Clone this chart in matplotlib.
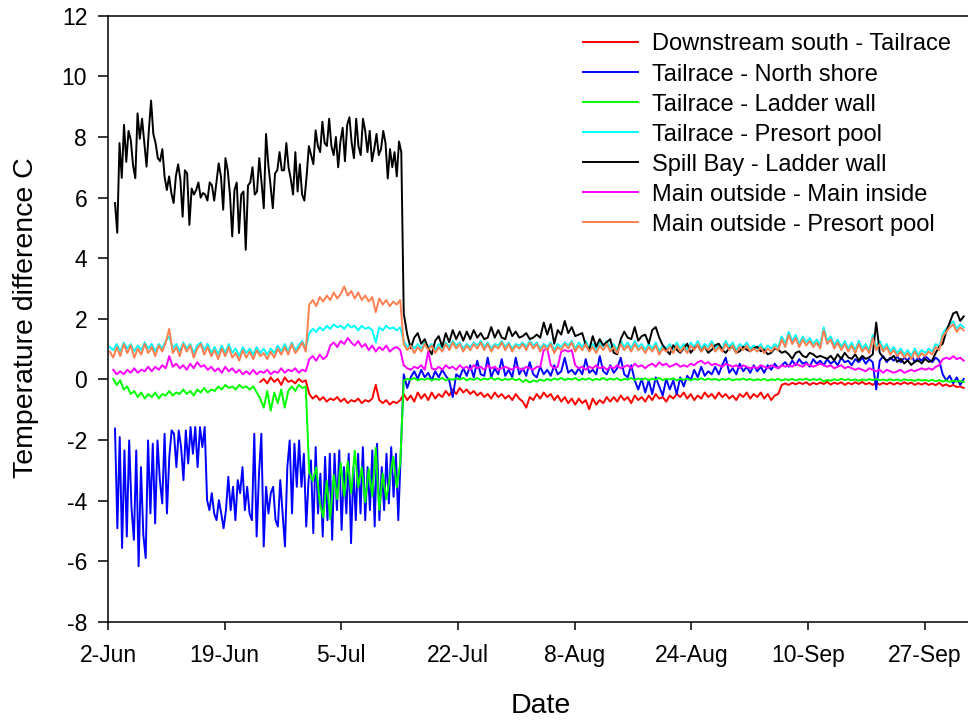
import numpy as np
import matplotlib
matplotlib.use('Agg')
import matplotlib.pyplot as plt

plt.rcParams['font.family'] = ['Liberation Sans', 'DejaVu Sans']
plt.rcParams['axes.unicode_minus'] = False

# x axis: days counted from 2 June
tick_days = [0, 50 / 3, 100 / 3, 50, 200 / 3, 250 / 3, 100, 350 / 3]
tick_labels = ['2-Jun', '19-Jun', '5-Jul', '22-Jul', '8-Aug', '24-Aug', '10-Sep', '27-Sep']

STEP = 0.5            # half-day sampling
SURGE_START = 28.75   # start of the spill period
POST_START = 42.25    # first sample after it

# Downstream south - Tailrace
red_pre = [-0.08, 0.02, -0.13, 0.07, -0.08, 0.02, -0.18, 0.07, -0.08, -0.03, -0.13, 0.02, -0.08, -0.03]
red_surge = [-0.48, -0.63, -0.53, -0.68, -0.58, -0.73, -0.63, -0.68, -0.58, -0.73, -0.63, -0.78, -0.68, -0.73,
             -0.63, -0.78, -0.68, -0.73, -0.63, -0.18, -0.68, -0.78, -0.68, -0.83, -0.73, -0.78, -0.68]
red_post = [-0.48, -0.68, -0.53, -0.73, -0.43, -0.63, -0.48, -0.68, -0.43, -0.63,
            -0.48, -0.58, -0.38, -0.53, -0.33, -0.48, -0.28, -0.43, -0.33, -0.48,
            -0.38, -0.53, -0.43, -0.58, -0.48, -0.63, -0.43, -0.58, -0.48, -0.63,
            -0.53, -0.68, -0.48, -0.63, -0.73, -0.93, -0.58, -0.68, -0.48, -0.63,
            -0.43, -0.58, -0.48, -0.68, -0.53, -0.73, -0.58, -0.78, -0.63, -0.83,
            -0.63, -0.78, -0.68, -0.98, -0.63, -0.83, -0.68, -0.78, -0.58, -0.73,
            -0.58, -0.73, -0.53, -0.68, -0.58, -0.78, -0.53, -0.68, -0.58, -0.73,
            -0.53, -0.68, -0.48, -0.63, -0.58, -0.73, -0.53, -0.63, -0.48, -0.58,
            -0.43, -0.63, -0.48, -0.68, -0.53, -0.63, -0.43, -0.58, -0.48, -0.63,
            -0.43, -0.58, -0.48, -0.63, -0.53, -0.68, -0.48, -0.58, -0.43, -0.63,
            -0.48, -0.58, -0.43, -0.63, -0.48, -0.68, -0.53, -0.48, -0.18, -0.13,
            -0.18, -0.11, -0.16, -0.10, -0.15, -0.09, -0.18, -0.11, -0.16, -0.10,
            -0.15, -0.08, -0.17, -0.10, -0.15, -0.09, -0.18, -0.11, -0.16, -0.09,
            -0.15, -0.08, -0.16, -0.11, -0.18, -0.10, -0.17, -0.11, -0.16, -0.10,
            -0.17, -0.11, -0.16, -0.09, -0.15, -0.10, -0.18, -0.12, -0.17, -0.11,
            -0.18, -0.13, -0.19, -0.11, -0.21, -0.16, -0.23, -0.18, -0.25, -0.23, -0.28]

# Tailrace - North shore (early part read at ~1/3 day spacing)
blue_early = [-1.62, -4.91, -1.90, -5.56, -2.34, -5.18, -2.01, -4.25, -5.29, -2.34,
              -6.16, -2.89, -5.13, -5.89, -2.01, -4.42, -2.12, -4.75, -2.01, -3.32,
              -4.09, -1.79, -4.42, -2.55, -1.68, -1.79, -2.89, -1.68, -2.23, -3.32,
              -1.68, -2.77, -1.57, -2.45, -1.57, -2.89, -1.57, -2.23, -1.57, -3.98,
              -4.31, -3.75, -4.42, -4.64, -3.98, -4.42, -4.91, -4.31, -3.21, -4.31,
              -3.54, -4.64, -3.32, -3.75, -2.89, -4.31, -3.54, -4.42, -4.64, -1.79,
              -5.18, -3.11, -1.79, -5.51, -3.54, -4.42, -3.75, -3.54, -4.64, -4.85,
              -3.32, -4.42, -5.51, -2.89, -2.01, -4.42, -2.12, -3.54, -2.01, -3.54,
              -2.45, -4.85, -3.32, -2.67, -5.07, -2.23, -4.42, -3.11, -5.18, -2.55,
              -4.64, -2.45, -5.29, -2.45, -4.31, -2.34, -4.96, -2.89, -4.42, -2.45,
              -5.40, -2.89, -4.64, -2.45, -4.42, -2.23, -4.64, -2.89, -4.31, -2.34,
              -4.85, -2.12, -4.64, -2.89, -4.31, -2.45, -4.09, -2.23, -3.87, -2.45,
              -4.64]
blue_post = [0.17, -0.28, 0.07, 0.27, 0.02, 0.32, 0.07, 0.22, -0.03, 0.27,
             0.07, 0.32, 0.12, -0.03, -0.58, 0.17, 0.07, 0.37, 0.12, 0.47,
             0.07, 0.62, 0.17, 0.12, 0.72, 0.07, 0.37, 0.17, 0.67, 0.12,
             0.32, 0.07, 0.72, 0.17, 0.37, 0.12, 0.57, 0.17, 0.07, 0.42,
             0.17, 0.32, 0.12, 0.47, 0.17, 0.27, 0.72, 0.22, 0.32, 0.17,
             0.37, 0.17, 0.67, 0.22, 0.32, 0.17, 0.77, 0.27, 0.17, 0.47,
             0.22, 0.37, 0.72, 0.17, 0.07, 0.47, -0.03, -0.33, 0.02, -0.43,
             -0.03, -0.48, 0.07, -0.23, -0.53, 0.02, -0.33, -0.03, -0.48, 0.07,
             -0.23, 0.12, -0.03, 0.32, 0.07, 0.42, 0.12, 0.27, 0.17, 0.42,
             0.17, 0.47, 0.72, 0.22, 0.37, 0.17, 0.52, 0.27, 0.42, 0.22,
             0.47, 0.27, 0.42, 0.22, 0.47, 0.32, 0.52, 0.37, 0.47, 0.57,
             0.42, 0.62, 0.47, 0.67, 0.52, 0.57, 0.42, 0.67, 0.52, 0.62,
             0.47, 0.67, 0.52, 0.62, 0.47, 0.72, 0.57, 0.62, 0.47, 0.67,
             0.57, 0.72, 0.52, 0.67, 0.57, -0.33, 0.62, 0.77, 0.57, 0.72,
             0.62, 0.77, 0.57, 0.72, 0.62, 0.82, 0.57, 0.72, 0.62, 0.77,
             0.67, 0.57, 0.72, 0.62, 0.17, -0.03, 0.12, -0.13, 0.07, -0.18, 0.02]

# Tailrace - Ladder wall
green_pre = [0.02, -0.18, -0.03, -0.33, -0.23, -0.48, -0.38, -0.58, -0.43, -0.63,
             -0.48, -0.58, -0.43, -0.63, -0.48, -0.53, -0.38, -0.53, -0.43, -0.48,
             -0.33, -0.48, -0.38, -0.53, -0.33, -0.43, -0.28, -0.43, -0.33, -0.38,
             -0.23, -0.33, -0.18, -0.28, -0.23, -0.33, -0.18, -0.28, -0.23, -0.33,
             -0.23, -0.43, -0.63, -0.93, -0.38, -1.03, -0.43, -0.78, -0.33, -0.93,
             -0.38, -0.23, -0.38, -0.18, -0.28, -0.23]
green_surge = [-3.05, -3.35, -2.90, -4.05, -4.55, -3.35, -4.60, -3.15, -3.95, -2.75, -3.85, -2.70, -3.75, -2.35,
               -3.55, -2.90, -4.05, -2.95, -3.85, -2.25, -4.30, -3.10, -3.95, -3.25, -2.55, -3.55, -2.75]
green_post = [-0.03, 0.02, -0.01, 0.05, -0.03, 0.02, -0.01, 0.04, -0.03, 0.02,
              -0.01, 0.05, -0.03, 0.02, -0.01, 0.04, 0.00, 0.05, -0.03, 0.03,
              -0.01, 0.05, -0.02, 0.03, 0.00, 0.06, -0.01, 0.04, -0.03, 0.02,
              -0.01, 0.04, -0.03, 0.02, -0.08, -0.01, -0.10, -0.03, -0.07, 0.00,
              -0.05, 0.02, -0.03, 0.03, -0.01, 0.05, -0.02, 0.03, 0.00, 0.05,
              -0.03, 0.03, -0.01, 0.04, -0.03, 0.02, -0.01, 0.05, -0.02, 0.03,
              -0.01, 0.04, -0.03, 0.02, 0.00, 0.05, -0.02, 0.03, -0.01, 0.04,
              -0.03, 0.03, -0.01, 0.05, -0.02, 0.02, 0.00, 0.04, -0.03, 0.02,
              -0.01, 0.03, -0.03, 0.02, -0.01, 0.04, -0.02, 0.03, -0.01, 0.02,
              -0.03, 0.02, -0.01, 0.03, -0.03, 0.01, -0.01, 0.03, -0.02, 0.02,
              -0.03, 0.01, -0.02, 0.02, -0.04, 0.01, -0.02, 0.02, -0.03, 0.01,
              -0.02, 0.02, -0.03, 0.01, -0.01, 0.03, -0.03, 0.01, -0.02, 0.02,
              -0.07, -0.01, -0.04, 0.01, -0.03, 0.02, -0.02, 0.01, -0.03, 0.00,
              -0.04, 0.00, -0.03, 0.01, -0.02, 0.02, -0.03, 0.00, -0.04, 0.01,
              -0.03, 0.00, -0.04, 0.01, -0.03, -0.01, -0.05, 0.00, -0.04, -0.01,
              -0.05, -0.01, -0.06, -0.02, -0.07, -0.03, -0.08, -0.04, -0.07, -0.05, -0.08]

# Tailrace - Presort pool
cyan_pre = [1.07, 0.97, 1.17, 0.92, 1.22, 1.02, 1.17, 0.92, 1.12, 0.97,
            1.22, 1.02, 1.17, 0.92, 1.17, 1.02, 1.27, 1.42, 1.02, 1.17,
            0.92, 1.22, 1.02, 1.17, 0.87, 1.12, 1.22, 0.97, 1.17, 0.87,
            1.07, 0.82, 1.12, 0.87, 1.17, 0.87, 1.02, 0.77, 1.07, 0.87,
            1.02, 0.82, 1.07, 0.87, 1.02, 0.82, 1.02, 0.87, 1.12, 0.92,
            1.17, 0.92, 1.22, 0.97, 1.12, 1.27, 1.02]
cyan_surge = [1.52, 1.67, 1.57, 1.72, 1.62, 1.77, 1.67, 1.82, 1.72, 1.77, 1.67, 1.82, 1.72, 1.77,
              1.62, 1.77, 1.67, 1.72, 1.62, 1.22, 1.72, 1.62, 1.77, 1.67, 1.72, 1.62, 1.72]
cyan_post = [1.27, 1.07, 1.17, 1.02, 1.17, 1.02, 1.22, 1.07, 1.17, 0.97,
             1.17, 1.02, 1.22, 1.07, 1.27, 1.12, 1.22, 1.02, 1.17, 1.07,
             1.22, 1.12, 1.27, 1.07, 1.22, 1.02, 1.17, 1.12, 1.27, 1.07,
             1.22, 1.02, 1.17, 1.12, 1.22, 1.07, 1.27, 1.12, 1.22, 1.02,
             1.17, 1.07, 1.22, 0.97, 1.17, 1.07, 1.22, 1.12, 1.27, 1.02,
             1.22, 1.07, 1.27, 1.02, 1.17, 0.97, 1.22, 1.07, 1.27, 1.02,
             1.17, 0.97, 1.27, 1.07, 1.22, 1.02, 1.27, 1.07, 1.17, 0.97,
             1.17, 1.02, 1.22, 0.92, 1.12, 1.02, 1.17, 0.97, 1.22, 1.02,
             1.17, 0.97, 1.22, 1.07, 1.27, 1.02, 1.17, 1.07, 1.27, 1.02,
             1.17, 1.02, 1.27, 1.07, 1.22, 0.97, 1.17, 1.07, 1.22, 1.02,
             1.12, 1.02, 1.17, 0.97, 1.12, 1.02, 1.17, 1.07, 1.42, 1.17,
             1.57, 1.27, 1.47, 1.17, 1.42, 1.22, 1.37, 1.17, 1.32, 1.12,
             1.72, 1.27, 1.42, 1.12, 1.32, 1.07, 1.27, 1.02, 1.22, 0.97,
             1.27, 1.02, 1.17, 0.97, 1.47, 1.07, 1.27, 1.02, 1.17, 0.92,
             1.07, 0.87, 1.02, 0.82, 0.97, 0.77, 1.02, 0.82, 0.97, 0.87,
             1.02, 0.92, 1.17, 1.07, 1.52, 1.67, 1.82, 1.92, 1.67, 1.82, 1.72]

# Spill Bay - Ladder wall (early part read at ~1/3 day spacing)
black_early = [5.82, 4.84, 7.80, 6.65, 8.40, 7.18, 8.20, 7.90, 7.07, 6.64,
               8.78, 7.94, 8.60, 7.80, 7.02, 8.20, 9.20, 8.10, 7.80, 7.30,
               7.20, 7.60, 6.69, 6.25, 6.70, 6.15, 5.82, 6.70, 7.10, 6.60,
               5.37, 6.90, 6.80, 5.10, 6.30, 6.10, 6.25, 6.50, 6.00, 6.15,
               6.10, 5.90, 6.50, 6.40, 5.90, 6.50, 7.13, 6.70, 5.60, 7.30,
               6.90, 6.10, 4.72, 6.25, 6.50, 4.83, 6.10, 6.20, 4.28, 6.40,
               6.50, 7.00, 6.10, 6.20, 7.30, 6.50, 5.65, 8.10, 7.10, 6.40,
               5.65, 6.80, 6.90, 7.50, 6.90, 6.90, 7.80, 7.00, 6.60, 6.10,
               7.50, 6.20, 7.10, 6.10, 5.90, 6.70, 7.70, 7.40, 7.10, 8.22,
               7.70, 7.50, 8.50, 7.80, 7.70, 8.60, 7.70, 7.40, 8.00, 7.00,
               7.85, 8.30, 7.20, 8.40, 8.65, 7.80, 7.30, 8.60, 7.70, 7.40,
               8.60, 8.20, 7.50, 8.20, 7.20, 7.60, 8.10, 7.40, 7.60, 8.20,
               7.80, 6.63, 7.60, 7.00, 7.50, 6.70, 7.85, 7.50]
black_post = [2.18, 1.48, 1.03, 1.38, 1.53, 1.18, 1.33, 1.03, 0.83, 1.28,
              1.43, 1.08, 1.53, 1.23, 1.63, 1.33, 1.58, 1.28, 1.58, 1.33,
              1.63, 1.38, 1.53, 1.33, 1.38, 1.73, 1.38, 1.63, 1.38, 1.33,
              1.73, 1.43, 1.58, 1.38, 1.43, 1.53, 1.33, 1.38, 1.48, 1.38,
              1.88, 1.48, 1.83, 1.18, 1.63, 1.48, 1.93, 1.53, 1.73, 1.43,
              1.48, 1.53, 1.13, 0.98, 1.43, 1.08, 1.33, 1.13, 1.23, 1.33,
              0.88, 0.83, 1.33, 1.58, 1.38, 1.33, 1.73, 1.28, 1.43, 1.48,
              1.18, 1.63, 1.73, 1.38, 1.13, 0.98, 0.83, 1.13, 0.98, 0.88,
              1.03, 1.18, 0.88, 1.03, 1.13, 0.93, 1.08, 0.88, 0.98, 1.13,
              1.18, 0.98, 0.88, 1.03, 1.08, 0.88, 0.93, 1.08, 0.98, 0.93,
              1.03, 1.08, 0.93, 0.98, 0.83, 0.88, 1.03, 0.98, 0.88, 0.93,
              0.83, 0.68, 0.88, 0.93, 0.78, 0.73, 0.88, 0.83, 0.73, 0.78,
              0.73, 0.68, 0.78, 0.63, 0.83, 0.68, 0.88, 0.73, 0.68, 0.83,
              0.63, 0.78, 0.68, 0.73, 0.83, 1.88, 0.88, 0.73, 0.63, 0.68,
              0.78, 0.58, 0.68, 0.53, 0.63, 0.48, 0.58, 0.63, 0.53, 0.68,
              0.58, 0.63, 0.88, 1.08, 1.18, 1.58, 1.88, 2.18, 2.23, 1.93, 2.08]

# Main outside - Main inside
magenta_pre = [0.32, 0.17, 0.27, 0.17, 0.32, 0.22, 0.37, 0.22, 0.32, 0.27,
               0.42, 0.27, 0.42, 0.32, 0.47, 0.37, 0.77, 0.42, 0.52, 0.37,
               0.47, 0.32, 0.52, 0.37, 0.57, 0.42, 0.47, 0.32, 0.42, 0.27,
               0.37, 0.22, 0.42, 0.27, 0.37, 0.22, 0.32, 0.17, 0.27, 0.17,
               0.32, 0.17, 0.27, 0.22, 0.32, 0.17, 0.27, 0.22, 0.37, 0.22,
               0.32, 0.27, 0.37, 0.22, 0.32, 0.27]
magenta_surge = [0.67, 0.77, 0.62, 0.82, 0.67, 0.77, 1.12, 1.22, 1.07, 1.27, 1.17, 1.37, 1.22, 1.12,
                 1.27, 1.07, 1.17, 0.97, 1.12, 0.92, 1.07, 0.97, 1.12, 0.92, 1.02, 1.07, 0.97]
magenta_post = [0.47, 0.37, 0.32, 0.42, 0.37, 0.47, 0.32, 0.92, 0.37, 0.32,
                0.42, 0.32, 0.47, 0.37, 0.42, 0.32, 0.47, 0.37, 0.42, 0.32,
                0.47, 0.37, 0.42, 0.32, 0.47, 0.37, 0.42, 0.32, 0.37, 0.42,
                0.37, 0.32, 0.42, 0.37, 0.32, 0.42, 0.37, 0.32, 0.42, 0.42,
                0.97, 1.02, 0.47, 0.37, 0.42, 0.92, 0.97, 0.92, 0.97, 0.47,
                0.37, 0.42, 0.32, 0.42, 0.37, 0.47, 0.37, 0.42, 0.32, 0.42,
                0.37, 0.47, 0.37, 0.42, 0.47, 0.37, 0.52, 0.42, 0.47, 0.37,
                0.47, 0.52, 0.42, 0.57, 0.47, 0.52, 0.42, 0.47, 0.52, 0.42,
                0.47, 0.42, 0.52, 0.47, 0.57, 0.62, 0.52, 0.57, 0.47, 0.52,
                0.47, 0.42, 0.52, 0.47, 0.42, 0.47, 0.37, 0.47, 0.42, 0.37,
                0.42, 0.37, 0.47, 0.42, 0.37, 0.47, 0.42, 0.37, 0.47, 0.42,
                0.47, 0.42, 0.52, 0.47, 0.42, 0.52, 0.47, 0.42, 0.47, 0.52,
                0.47, 0.42, 0.47, 0.37, 0.42, 0.47, 0.37, 0.42, 0.37, 0.32,
                0.37, 0.32, 0.27, 0.37, 0.32, 0.27, 0.32, 0.22, 0.32, 0.27,
                0.22, 0.27, 0.32, 0.22, 0.27, 0.32, 0.27, 0.32, 0.37, 0.32,
                0.37, 0.32, 0.42, 0.47, 0.67, 0.72, 0.67, 0.77, 0.67, 0.72, 0.62]

# Main outside - Presort pool
orange_pre = [0.92, 0.72, 1.07, 0.77, 1.17, 0.87, 1.12, 0.72, 1.02, 0.82,
              1.17, 0.87, 1.07, 0.77, 1.12, 0.92, 1.22, 1.67, 0.87, 1.07,
              0.77, 1.17, 0.92, 1.12, 0.72, 1.02, 1.17, 0.82, 1.07, 0.77,
              0.97, 0.67, 1.02, 0.77, 1.07, 0.72, 0.87, 0.62, 0.97, 0.72,
              0.92, 0.67, 0.97, 0.77, 0.87, 0.67, 0.92, 0.72, 1.02, 0.82,
              1.07, 0.82, 1.17, 0.87, 1.02, 1.22, 0.92]
orange_surge = [2.47, 2.62, 2.42, 2.72, 2.57, 2.77, 2.62, 2.87, 2.67, 2.82, 3.07, 2.77, 2.92, 2.67,
                2.87, 2.62, 2.77, 2.57, 2.72, 2.22, 2.67, 2.47, 2.62, 2.42, 2.57, 2.47, 2.62]
orange_post = [1.17, 0.97, 1.12, 0.87, 1.07, 0.92, 1.17, 0.97, 1.12, 0.87,
               1.07, 0.92, 1.17, 0.97, 1.22, 1.02, 1.17, 0.92, 1.12, 0.97,
               1.17, 1.02, 1.22, 0.97, 1.17, 0.92, 1.12, 1.02, 1.22, 0.97,
               1.17, 0.92, 1.12, 1.02, 1.17, 0.97, 1.22, 1.02, 1.17, 0.92,
               1.12, 0.97, 1.17, 0.87, 1.07, 0.97, 1.17, 1.02, 1.22, 0.92,
               1.12, 0.97, 1.17, 0.92, 1.07, 0.87, 1.12, 0.97, 1.17, 0.92,
               1.07, 0.87, 1.17, 0.97, 1.12, 0.92, 1.17, 0.97, 1.07, 0.87,
               1.07, 0.92, 1.12, 0.82, 1.02, 0.92, 1.07, 0.87, 1.12, 0.92,
               1.07, 0.87, 1.12, 0.97, 1.17, 0.92, 1.07, 0.97, 1.17, 0.92,
               1.07, 0.92, 1.17, 0.97, 1.12, 0.87, 1.07, 0.97, 1.12, 0.92,
               1.02, 0.92, 1.07, 0.87, 1.02, 0.92, 1.07, 0.97, 1.32, 1.07,
               1.47, 1.17, 1.37, 1.07, 1.32, 1.12, 1.27, 1.07, 1.22, 1.02,
               1.62, 1.17, 1.32, 1.02, 1.22, 0.97, 1.17, 0.92, 1.12, 0.87,
               1.17, 0.92, 1.07, 0.87, 1.37, 0.97, 1.17, 0.92, 1.07, 0.82,
               0.97, 0.77, 0.92, 0.72, 0.87, 0.67, 0.92, 0.72, 0.87, 0.77,
               0.92, 0.82, 1.07, 0.97, 1.42, 1.57, 1.72, 1.82, 1.57, 1.72, 1.62]


def sampled(*segments):
    """Join (first_day, values) segments sampled every STEP days."""
    t = np.concatenate([d0 + STEP * np.arange(len(v)) for d0, v in segments])
    y = np.concatenate([np.asarray(v, dtype=float) for _, v in segments])
    return t, y


def spread(d0, d1, early, post):
    """Early readings spread evenly over [d0, d1], then the half-day record."""
    t = np.concatenate([np.linspace(d0, d1, len(early)),
                        POST_START + STEP * np.arange(len(post))])
    y = np.concatenate([early, post]).astype(float)
    return t, y


series = [
    ('Downstream south - Tailrace', '#ff0000',
     sampled((21.75, red_pre), (SURGE_START, red_surge), (POST_START, red_post))),
    ('Tailrace - North shore', '#0000ff', spread(1.0, 41.47, blue_early, blue_post)),
    ('Tailrace - Ladder wall', '#00ff00',
     sampled((0.75, green_pre), (SURGE_START, green_surge), (POST_START, green_post))),
    ('Tailrace - Presort pool', '#00ffff',
     sampled((0.25, cyan_pre), (SURGE_START, cyan_surge), (POST_START, cyan_post))),
    ('Spill Bay - Ladder wall', '#000000', spread(1.0, 41.9, black_early, black_post)),
    ('Main outside - Main inside', '#ff00ff',
     sampled((0.75, magenta_pre), (SURGE_START, magenta_surge), (POST_START, magenta_post))),
    ('Main outside - Presort pool', '#ff7f50',
     sampled((0.25, orange_pre), (SURGE_START, orange_surge), (POST_START, orange_post))),
]

fig = plt.figure(figsize=(9.68, 7.21), dpi=100)
# the axis runs on past the right edge of the page
ax = fig.add_axes([108 / 968, 99 / 721, 933.3 / 968, 606.3 / 721])

for label, color, (t, y) in series:
    ax.plot(t, y, color=color, lw=1.4, label=label)

ax.set_xlim(0, 400 / 3)
ax.set_ylim(-8, 12)
ax.set_yticks(np.arange(-8, 13, 2))
ax.set_xticks(tick_days)
ax.set_xticklabels(tick_labels)

ax.spines['right'].set_visible(False)
for side in ('left', 'bottom', 'top'):
    ax.spines[side].set_linewidth(1.1)
ax.tick_params(axis='y', direction='out', length=7, width=1.1, pad=8, labelsize=16.5)
ax.tick_params(axis='x', direction='out', length=6, width=1.1, pad=10, labelsize=16.5)

fig.text(26 / 968, 1 - 318 / 721, 'Temperature difference C', rotation=90,
         ha='center', va='center', fontsize=20.5)
fig.text(540.5 / 968, 1 - 713.3 / 721, 'Date', ha='center', va='baseline', fontsize=20.5)

ax.legend(loc='upper left', bbox_to_anchor=(583 / 968, 1 - 33.5 / 721),
          bbox_transform=fig.transFigure, frameon=False, fontsize=17,
          handlelength=2.33, handletextpad=0.6, labelspacing=0.34,
          borderpad=0, borderaxespad=0)

fig.savefig('out.png', dpi=100)
